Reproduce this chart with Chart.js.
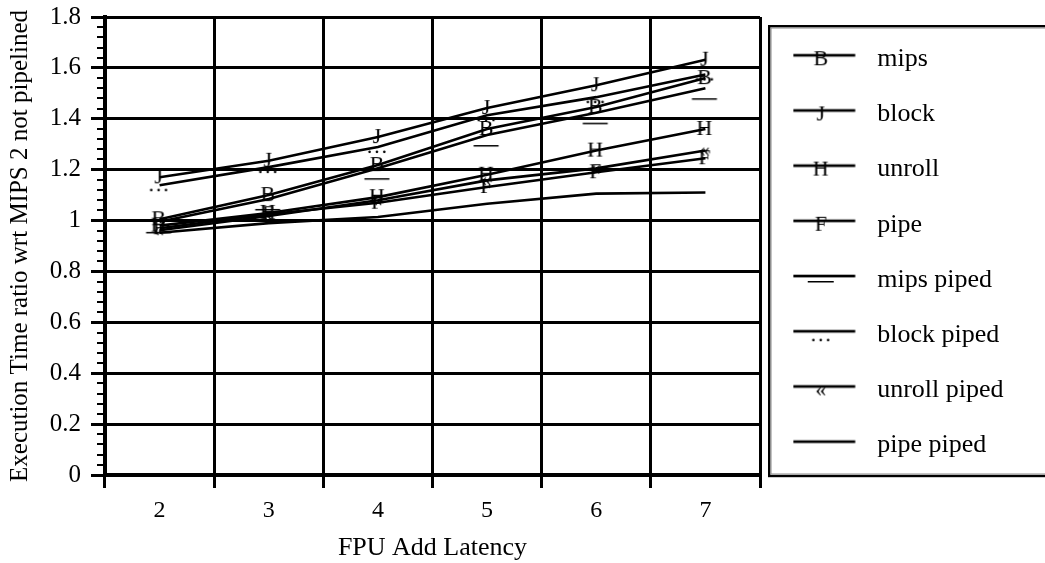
<!DOCTYPE html>
<html>
<head>
<meta charset="utf-8">
<script src="https://cdn.jsdelivr.net/npm/chart.js@4.4.1/dist/chart.umd.min.js"></script>
<style>
  html, body { margin: 0; padding: 0; background: #fff; }
  #c { display: block; }
</style>
</head>
<body>
<canvas id="c" width="1045" height="563"></canvas>
<script>
// FPU add latency on the x axis
const latencies = ['2', '3', '4', '5', '6', '7'];

// Execution time ratio relative to MIPS with latency 2, not pipelined
const mips        = [1.005, 1.10, 1.218, 1.36, 1.446, 1.56];
const block       = [1.17, 1.235, 1.328, 1.442, 1.532, 1.632];
const unroll      = [0.98, 1.03, 1.092, 1.18, 1.275, 1.36];
const pipe        = [0.97, 1.025, 1.07, 1.132, 1.19, 1.245];
const mipsPiped   = [0.995, 1.085, 1.206, 1.336, 1.424, 1.52];
const blockPiped  = [1.139, 1.21, 1.289, 1.414, 1.485, 1.574];
const unrollPiped = [0.962, 1.018, 1.08, 1.158, 1.205, 1.275];
const pipePiped   = [0.952, 0.99, 1.014, 1.066, 1.106, 1.11];

const seriesNames  = ['mips', 'block', 'unroll', 'pipe', 'mips piped', 'block piped', 'unroll piped', 'pipe piped'];
const seriesValues = [mips, block, unroll, pipe, mipsPiped, blockPiped, unrollPiped, pipePiped];
const markerGlyphs = ['B', 'J', 'H', 'F', '_', '\u2026', '\u00AB', ''];

const SERIF = '"Liberation Serif", "Times New Roman", serif';

// Draws one marker glyph (letter, dots, guillemet or underline) into g around (cx, cy)
function paintGlyph(g, ch, cx, cy, underlineWidth, underlineDrop) {
  g.fillStyle = '#000';
  if (ch === '_') {
    g.fillRect(cx - underlineWidth / 2, cy + underlineDrop, underlineWidth, 1.5);
    return;
  }
  g.font = '22px ' + SERIF;
  g.textAlign = 'center';
  g.textBaseline = 'middle';
  g.fillText(ch, cx, cy);
}

// Point images used on the plotted lines
function markerImage(ch) {
  const c = document.createElement('canvas');
  c.width = 44; c.height = 44;
  const g = c.getContext('2d');
  if (ch) paintGlyph(g, ch, 21, 22, 25, 10);
  return c;
}

// Legend samples: a short line with the series glyph on it
function legendSample(ch) {
  const c = document.createElement('canvas');
  c.width = 76; c.height = 44;
  const g = c.getContext('2d');
  g.fillStyle = '#000';
  g.fillRect(0.5, 22 - 4 - 1.3, 62, 2.7);
  if (ch) paintGlyph(g, ch, 28, 22, 26, 1);
  return c;
}

const markers = markerGlyphs.map(markerImage);
const legendSamples = markerGlyphs.map(legendSample);

const datasets = seriesNames.map((name, i) => ({
  label: name,
  data: seriesValues[i],
  borderColor: '#000',
  backgroundColor: '#000',
  borderWidth: 2.6,
  tension: 0,
  fill: false,
  pointStyle: markers[i],
  pointRadius: markerGlyphs[i] ? 3 : 0
}));

// Frame around the legend: black outer rule with a grey inner rule
const legendFrame = {
  id: 'legendFrame',
  afterDraw(chart) {
    const lg = chart.legend;
    if (!lg) return;
    const ctx = chart.ctx;
    const left = lg.left, top = chart.chartArea.top + 8, bottom = chart.chartArea.bottom + 1, right = chart.width + 10;
    ctx.save();
    ctx.strokeStyle = '#000';
    ctx.lineWidth = 2.4;
    ctx.strokeRect(left + 1.2, top + 1.2, right - left, bottom - top - 1.2);
    ctx.strokeStyle = '#888';
    ctx.lineWidth = 1;
    ctx.strokeRect(left + 3, top + 3, right - left, bottom - top - 5);
    ctx.restore();
  }
};

new Chart(document.getElementById('c'), {
  type: 'line',
  data: { labels: latencies, datasets },
  options: {
    responsive: false,
    animation: false,
    events: [],
    layout: { padding: { top: 17, right: 37, bottom: 0, left: 0 } },
    plugins: {
      tooltip: { enabled: false },
      legend: {
        position: 'right',
        align: 'start',
        maxWidth: 240,
        labels: {
          usePointStyle: true,
          pointStyleWidth: 67,
          padding: 29.2,
          color: '#000',
          font: { family: SERIF, size: 26 },
          generateLabels(chart) {
            return chart.data.datasets.map((ds, i) => ({
              text: ds.label,
              pointStyle: legendSamples[i],
              fillStyle: '#000',
              strokeStyle: '#000',
              fontColor: '#000',
              lineWidth: 0,
              hidden: false,
              datasetIndex: i
            }));
          }
        }
      }
    },
    scales: {
      x: {
        type: 'category',
        offset: true,
        grid: { offset: true, color: '#000', lineWidth: 3, tickLength: 13, drawTicks: true },
        border: { color: '#000', width: 4 },
        ticks: { color: '#000', font: { family: SERIF, size: 24 }, padding: 8, maxRotation: 0 },
        title: {
          display: true,
          text: 'FPU Add Latency',
          color: '#000',
          font: { family: SERIF, size: 26, lineHeight: 1 },
          padding: { top: 0, bottom: 2 }
        },
        afterFit(scale) { scale.height = 88; }
      },
      y: {
        position: 'left',
        weight: 1,
        min: 0,
        max: 1.8,
        ticks: {
          stepSize: 0.2,
          color: '#000',
          font: { family: SERIF, size: 25 },
          padding: 10,
          callback: (v) => String(Math.round(v * 10) / 10)
        },
        grid: { color: '#000', lineWidth: 3, tickLength: 14 },
        border: { color: '#000', width: 4 },
        title: {
          display: true,
          text: 'Execution Time ratio wrt MIPS 2 not pipelined',
          color: '#000',
          font: { family: SERIF, size: 25, lineHeight: 1 },
          padding: { top: 8, bottom: 0 }
        },
        afterFit(scale) {
          scale.width = 105;
          scale.paddingTop = 0;
          scale.paddingBottom = 0;
        }
      },
      yMinor: {
        position: 'left',
        weight: 0,
        min: 0,
        max: 1.8,
        ticks: { stepSize: 0.04, maxTicksLimit: 100, display: false },
        grid: { drawOnChartArea: false, color: '#000', lineWidth: 2, tickLength: 8 },
        border: { display: false },
        afterFit(scale) { scale.width = 0; }
      },
      yGap: {
        position: 'right',
        weight: 0,
        min: 0,
        max: 1.8,
        ticks: { display: false },
        grid: { display: false, drawTicks: false },
        border: { display: false },
        afterFit(scale) { scale.width = 8; }
      }
    }
  },
  plugins: [legendFrame]
});
</script>
</body>
</html>
